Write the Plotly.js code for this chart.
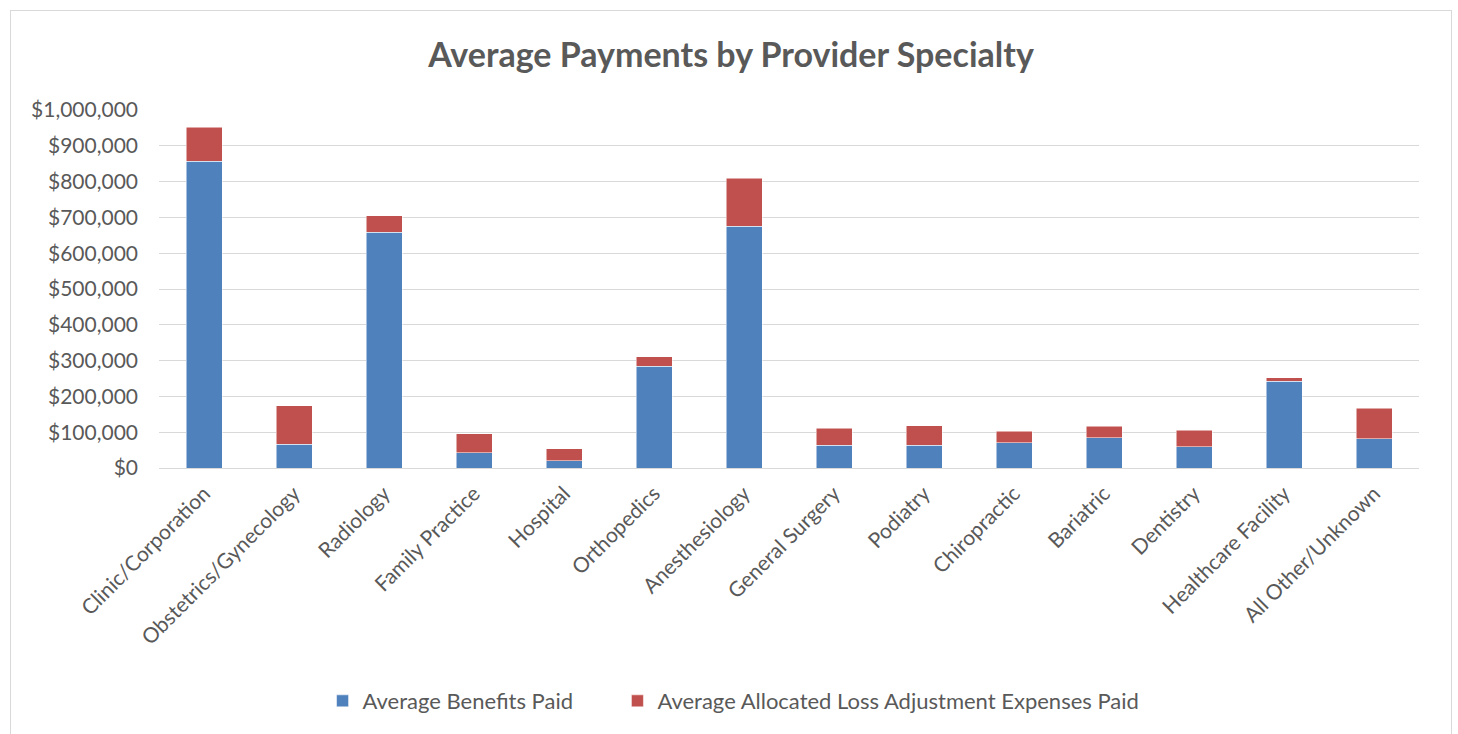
<!DOCTYPE html>
<html>
<head>
<meta charset="utf-8">
<script src="https://cdn.plot.ly/plotly-3.0.1.min.js"></script>
<style>
  html, body { margin: 0; padding: 0; background: #ffffff; overflow: hidden; }
  #frame { position: absolute; left: 10px; top: 10px; width: 1440px; height: 740px; border: 1px solid #d9d9d9; background: #fff; }
  #chart { width: 1440px; height: 740px; }
</style>
</head>
<body>
<div id="frame"><div id="chart"></div></div>
<script>
const categories = ["Clinic/Corporation", "Obstetrics/Gynecology", "Radiology", "Family Practice", "Hospital", "Orthopedics", "Anesthesiology", "General Surgery", "Podiatry", "Chiropractic", "Bariatric", "Dentistry", "Healthcare Facility", "All Other/Unknown"];
const benefitsPaid = [857000, 67000, 658000, 42000, 20500, 284500, 675000, 63500, 63500, 70000, 84000, 59000, 242000, 81500];
const alaePaid = [95000, 107000, 47000, 53000, 33500, 26000, 135000, 47500, 55000, 33000, 32000, 46500, 10500, 85000];
const yTickVals = [0, 100000, 200000, 300000, 400000, 500000, 600000, 700000, 800000, 900000, 1000000];
const seriesNames = ["Average Benefits Paid", "Average Allocated Loss Adjustment Expenses Paid"];

const textColor = "#595959";
const fontFam = "Lato, 'Open Sans', sans-serif";
const pad = "\u00a0\u00a0\u00a0\u00a0\u00a0\u00a0\u00a0";

const traces = [
  { type: "bar", name: seriesNames[0] + pad, x: categories, y: benefitsPaid,
    marker: { color: "#4F81BD", line: { color: "#ffffff", width: 0.5 } }, hoverinfo: "y" },
  { type: "bar", name: seriesNames[1], x: categories, y: alaePaid,
    marker: { color: "#C0504D", line: { color: "#ffffff", width: 0.5 } }, hoverinfo: "y" }
];

const layout = {
  barmode: "stack",
  bargap: 0.6,
  width: 1440, height: 740,
  margin: { l: 148, r: 32, t: 99, b: 283 },
  paper_bgcolor: "#ffffff", plot_bgcolor: "#ffffff",
  font: { family: fontFam, color: textColor, size: 21 },
  title: { text: "<b>Average Payments by Provider Specialty</b>", x: 0.5, xref: "container", xanchor: "center",
           y: 0.94, yref: "container", yanchor: "middle",
           font: { family: fontFam, size: 34, color: textColor } },
  xaxis: { type: "category", tickangle: -45, showgrid: false, showline: true, linecolor: "#d9d9d9", linewidth: 1,
           ticks: "", tickfont: { size: 21, color: textColor }, ticklabelstandoff: 4 },
  yaxis: { range: [0, 1000000], tickvals: yTickVals, tickformat: "$,.0f", showgrid: true, gridcolor: "#d9d9d9",
           gridwidth: 1, zeroline: true, zerolinecolor: "#d9d9d9", ticks: "", tickfont: { size: 21, color: textColor },
           ticklabelstandoff: 20 },
  legend: { orientation: "h", x: 0.456, xanchor: "center", y: -0.651, yanchor: "middle",
            font: { size: 22, color: textColor }, traceorder: "normal", itemwidth: 30 },
  showlegend: true
};

Plotly.newPlot("chart", traces, layout, { displayModeBar: false, staticPlot: true });
</script>
</body>
</html>
